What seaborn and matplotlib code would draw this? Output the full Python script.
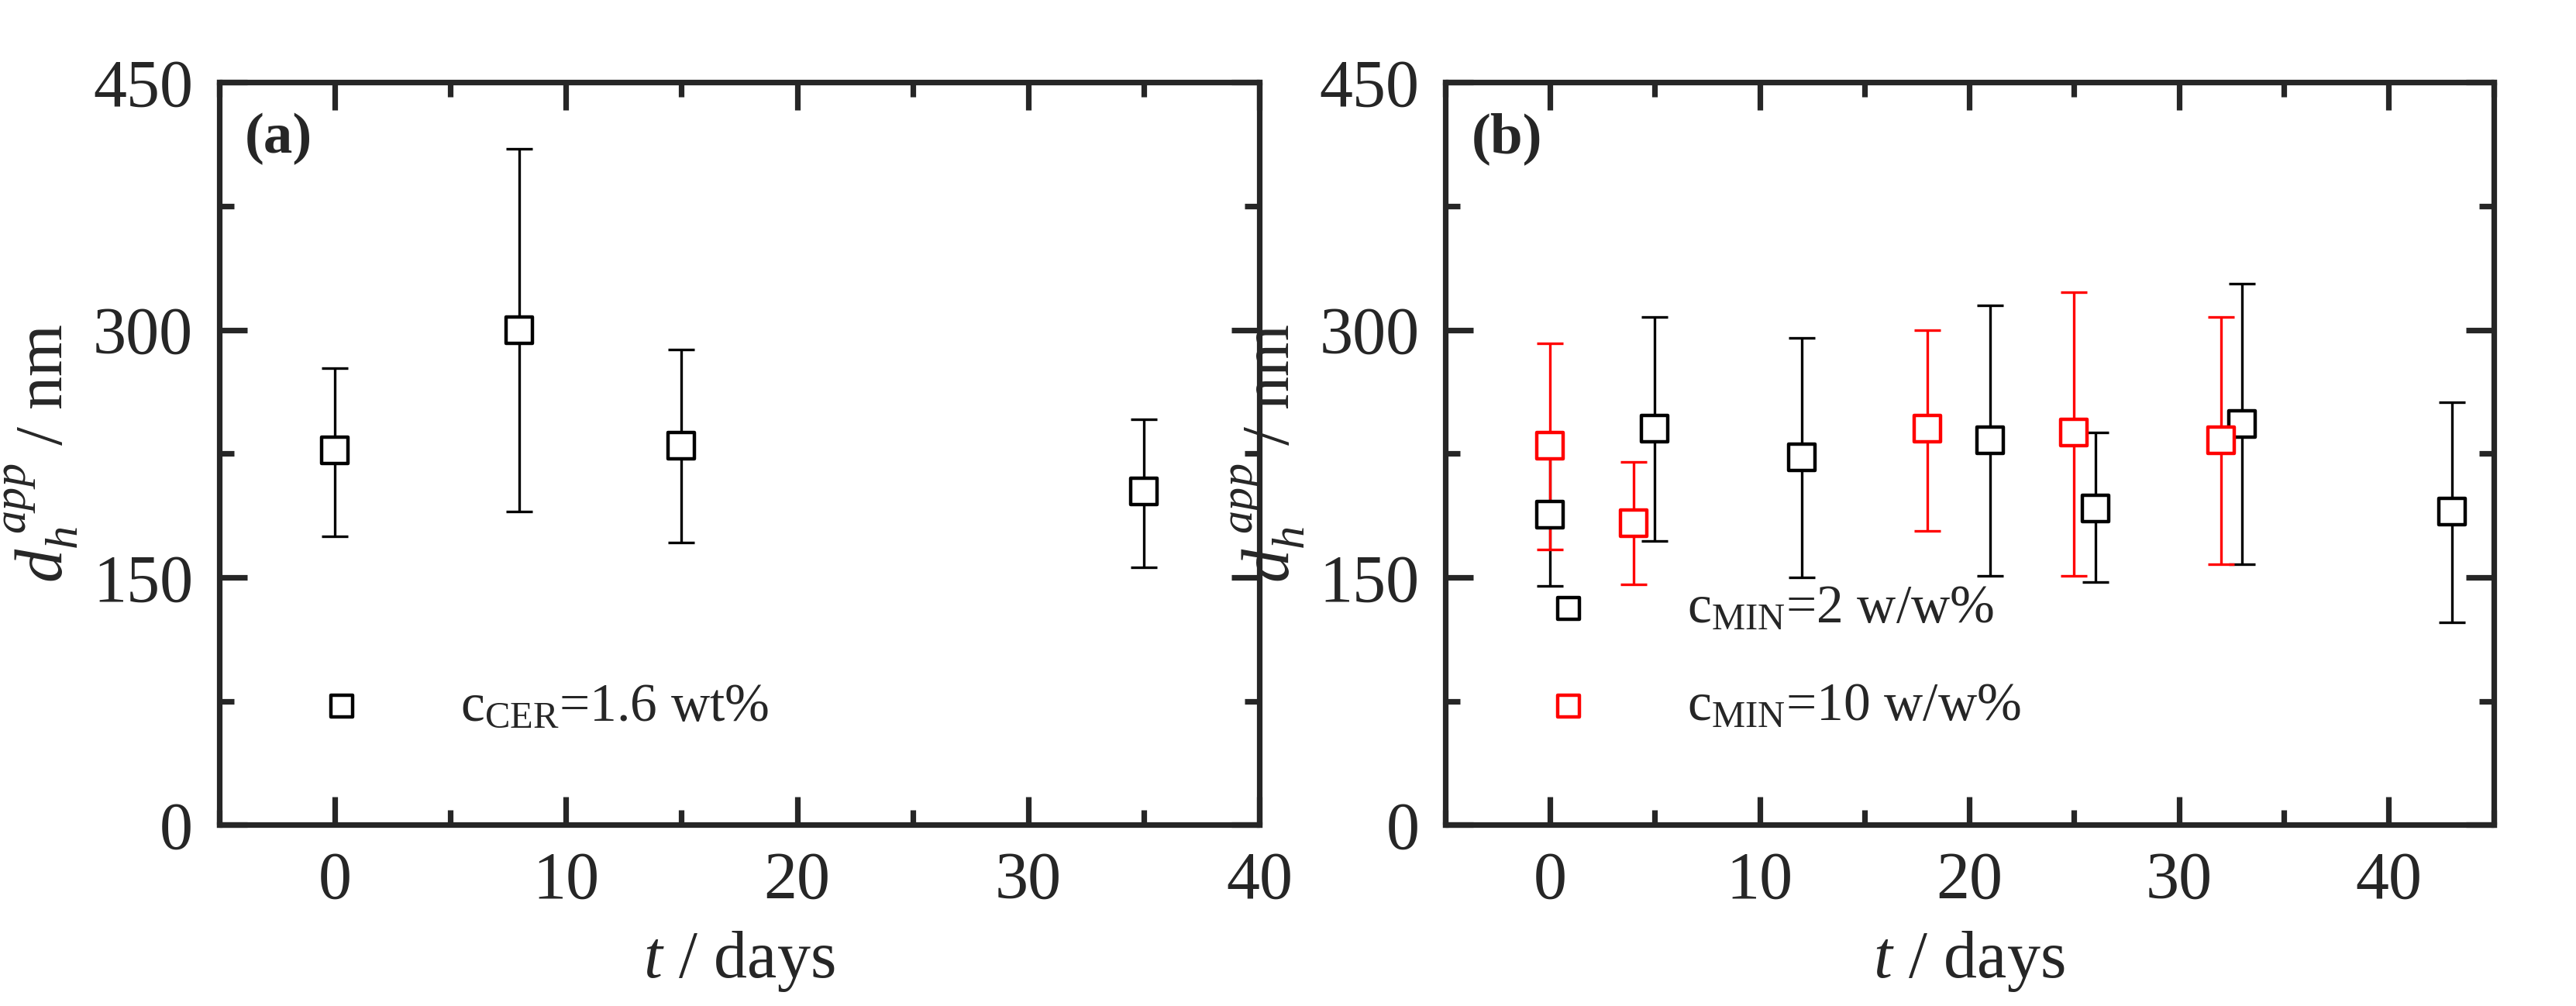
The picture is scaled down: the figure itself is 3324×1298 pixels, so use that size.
import numpy as np
import pandas as pd
import matplotlib
matplotlib.use('Agg')
import matplotlib.pyplot as plt
import seaborn as sns
from matplotlib.ticker import MultipleLocator

sns.set_style('ticks')
plt.rcParams['font.family'] = ['Liberation Serif', 'DejaVu Serif']
plt.rcParams['mathtext.fontset'] = 'custom'
plt.rcParams['mathtext.rm'] = 'Liberation Serif'
plt.rcParams['mathtext.it'] = 'Liberation Serif:italic'

# panel (a): ceramide
t_cer = [0, 8, 15, 35]
d_cer = [227, 300, 230, 202]
lo_cer = [175, 190, 171, 156]
hi_cer = [277, 410, 288, 246]

# panel (b): MIN 2 w/w%
t_min2 = [0, 5, 12, 21, 26, 33, 43]
d_min2 = [188, 240, 223, 233, 192, 243, 190]
lo_min2 = [145, 172, 150, 151, 147, 158, 123]
hi_min2 = [229, 308, 295, 315, 238, 328, 256]

# panel (b): MIN 10 w/w%
t_min10 = [0, 4, 18, 25, 32]
d_min10 = [230, 183, 240, 238, 233]
lo_min10 = [167, 146, 178, 151, 158]
hi_min10 = [292, 220, 300, 323, 308]

fig = plt.figure(figsize=(16.62, 6.49), dpi=200)
ax_a = fig.add_axes([0.085, 0.180, 0.404, 0.738])
ax_b = fig.add_axes([0.561, 0.180, 0.407, 0.738])


def draw(ax, t, d, lo, hi, color, label, lw=1.2):
    d = np.array(d)
    yerr = [d - np.array(lo), np.array(hi) - d]
    ax.errorbar(t, d, yerr=yerr, fmt='none', ecolor=color, elinewidth=lw,
                capsize=6, capthick=lw, zorder=2)
    df = pd.DataFrame({'t': t, 'd': d})
    sns.scatterplot(data=df, x='t', y='d', ax=ax, marker='s', s=150,
                    facecolor='white', edgecolor=color, linewidth=1.6,
                    label=label, zorder=3)


draw(ax_a, t_cer, d_cer, lo_cer, hi_cer, 'black', r'c$_{\mathrm{CER}}$=1.6 wt%')
draw(ax_b, t_min2, d_min2, lo_min2, hi_min2, 'black', r'c$_{\mathrm{MIN}}$=2 w/w%')
draw(ax_b, t_min10, d_min10, lo_min10, hi_min10, 'red', r'c$_{\mathrm{MIN}}$=10 w/w%')

for ax, xmax, tag, space in [(ax_a, 40, '(a)', 0.5), (ax_b, 45, '(b)', 0.9)]:
    ax.set_xlim(-5, xmax)
    ax.set_ylim(0, 450)
    ax.xaxis.set_major_locator(MultipleLocator(10))
    ax.xaxis.set_minor_locator(MultipleLocator(5))
    ax.yaxis.set_major_locator(MultipleLocator(150))
    ax.yaxis.set_minor_locator(MultipleLocator(75))
    ax.tick_params(which='both', direction='in', top=True, right=True,
                   width=2.6, labelsize=31, pad=12)
    ax.tick_params(which='major', length=13)
    ax.tick_params(which='minor', length=7)
    for sp in ax.spines.values():
        sp.set_linewidth(2.6)
    ax.set_xlabel(r'$t$ / days', fontsize=31, labelpad=8)
    ax.set_ylabel(r'$d_h^{\ app}$ / nm', fontsize=31, labelpad=6)
    ax.text(0.025, 0.96, tag, transform=ax.transAxes, fontsize=27,
            fontweight='bold', va='top', ha='left')
    ax.legend(loc='lower left', bbox_to_anchor=(0.02, 0.06), frameon=False,
              fontsize=25, handletextpad=1.2, markerscale=0.8,
              labelspacing=space)

fig.savefig('out.png', dpi=200, facecolor='white')
